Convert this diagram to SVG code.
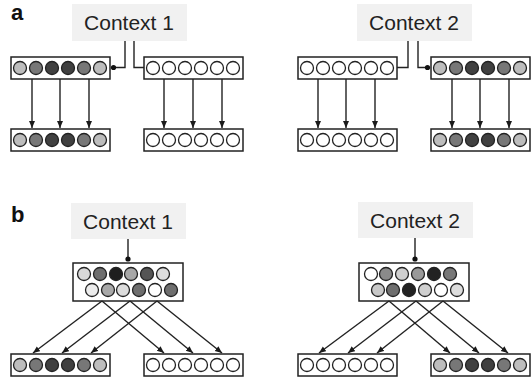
<svg xmlns="http://www.w3.org/2000/svg" width="532" height="381" viewBox="0 0 532 381">
  <defs>
    <marker id="arrow" markerUnits="userSpaceOnUse" markerWidth="8" markerHeight="8" refX="7" refY="3" orient="auto">
      <path d="M0,0 L7,3 L0,6 z" fill="#1a1a1a"/>
    </marker>
  </defs>
  <style>
    .panel { font-family: "Liberation Sans", Arial, sans-serif; font-weight: bold; font-size: 22px; fill: #111; }
    .ctx rect { fill: #f1f1f1; stroke: none; }
    .ctx text { font-family: "Liberation Sans", Arial, sans-serif; font-size: 21px; fill: #222; text-anchor: middle; }
    .layer rect { fill: #fff; stroke: #222; stroke-width: 1.5; }
    .layer circle { stroke: #222; stroke-width: 1.3; }
    .conn path, .conn line { fill: none; stroke: #222; stroke-width: 1.4; }
    .conn circle { fill: #111; }
    .arr { marker-end: url(#arrow); }
    .w { fill: #fff; }
    .l { fill: #bdbdbd; }
    .m { fill: #777; }
    .d { fill: #404040; }
  </style>

  <!-- panel letters -->
  <text class="panel" x="11" y="20">a</text>
  <text class="panel" x="11" y="222">b</text>

  <!-- ===== panel a ===== -->
  <g id="a-context1" class="ctx">
    <rect x="72" y="4" width="115" height="37"/>
    <text x="129" y="30">Context 1</text>
  </g>
  <g id="a-context2" class="ctx">
    <rect x="357" y="4" width="115" height="37"/>
    <text x="414" y="30">Context 2</text>
  </g>

  <g id="a-in1" class="layer">
    <rect x="11" y="57" width="99" height="22"/>
    <circle class="l" cx="20" cy="68" r="6.5"/><circle class="m" cx="36" cy="68" r="6.5"/><circle class="d" cx="52" cy="68" r="6.5"/>
    <circle class="d" cx="68" cy="68" r="6.5"/><circle class="m" cx="84" cy="68" r="6.5"/><circle class="l" cx="100" cy="68" r="6.5"/>
  </g>
  <g id="a-in2" class="layer">
    <rect x="144" y="57" width="99" height="22"/>
    <circle class="w" cx="153" cy="68" r="6.5"/><circle class="w" cx="169" cy="68" r="6.5"/><circle class="w" cx="185" cy="68" r="6.5"/>
    <circle class="w" cx="201" cy="68" r="6.5"/><circle class="w" cx="217" cy="68" r="6.5"/><circle class="w" cx="233" cy="68" r="6.5"/>
  </g>
  <g id="a-out1" class="layer">
    <rect x="11" y="129" width="99" height="22"/>
    <circle class="l" cx="20" cy="140" r="6.5"/><circle class="m" cx="36" cy="140" r="6.5"/><circle class="d" cx="52" cy="140" r="6.5"/>
    <circle class="d" cx="68" cy="140" r="6.5"/><circle class="m" cx="84" cy="140" r="6.5"/><circle class="l" cx="100" cy="140" r="6.5"/>
  </g>
  <g id="a-out2" class="layer">
    <rect x="144" y="129" width="99" height="22"/>
    <circle class="w" cx="153" cy="140" r="6.5"/><circle class="w" cx="169" cy="140" r="6.5"/><circle class="w" cx="185" cy="140" r="6.5"/>
    <circle class="w" cx="201" cy="140" r="6.5"/><circle class="w" cx="217" cy="140" r="6.5"/><circle class="w" cx="233" cy="140" r="6.5"/>
  </g>

  <g id="a-in3" class="layer">
    <rect x="298" y="57" width="99" height="22"/>
    <circle class="w" cx="307" cy="68" r="6.5"/><circle class="w" cx="323" cy="68" r="6.5"/><circle class="w" cx="339" cy="68" r="6.5"/>
    <circle class="w" cx="355" cy="68" r="6.5"/><circle class="w" cx="371" cy="68" r="6.5"/><circle class="w" cx="387" cy="68" r="6.5"/>
  </g>
  <g id="a-in4" class="layer">
    <rect x="431" y="57" width="99" height="22"/>
    <circle class="l" cx="440" cy="68" r="6.5"/><circle class="m" cx="456" cy="68" r="6.5"/><circle class="d" cx="472" cy="68" r="6.5"/>
    <circle class="d" cx="488" cy="68" r="6.5"/><circle class="m" cx="504" cy="68" r="6.5"/><circle class="l" cx="520" cy="68" r="6.5"/>
  </g>
  <g id="a-out3" class="layer">
    <rect x="298" y="129" width="99" height="22"/>
    <circle class="w" cx="307" cy="140" r="6.5"/><circle class="w" cx="323" cy="140" r="6.5"/><circle class="w" cx="339" cy="140" r="6.5"/>
    <circle class="w" cx="355" cy="140" r="6.5"/><circle class="w" cx="371" cy="140" r="6.5"/><circle class="w" cx="387" cy="140" r="6.5"/>
  </g>
  <g id="a-out4" class="layer">
    <rect x="431" y="129" width="99" height="22"/>
    <circle class="l" cx="440" cy="140" r="6.5"/><circle class="m" cx="456" cy="140" r="6.5"/><circle class="d" cx="472" cy="140" r="6.5"/>
    <circle class="d" cx="488" cy="140" r="6.5"/><circle class="m" cx="504" cy="140" r="6.5"/><circle class="l" cx="520" cy="140" r="6.5"/>
  </g>

  <!-- ===== panel b ===== -->
  <g id="b-context1" class="ctx">
    <rect x="71" y="203" width="115" height="36"/>
    <text x="128" y="229">Context 1</text>
  </g>
  <g id="b-context2" class="ctx">
    <rect x="358" y="202" width="115" height="36"/>
    <text x="415" y="228">Context 2</text>
  </g>

  <g id="b-hidden1" class="layer">
    <rect x="73" y="263" width="110" height="38"/>
    <circle cx="84" cy="274" r="6.5" fill="#d9d9d9"/><circle cx="100" cy="274" r="6.5" fill="#6e6e6e"/><circle cx="116" cy="274" r="6.5" fill="#1e1e1e"/>
    <circle cx="131" cy="274" r="6.5" fill="#a8a8a8"/><circle cx="147" cy="274" r="6.5" fill="#555"/><circle cx="163" cy="274" r="6.5" fill="#dcdcdc"/>
    <circle cx="92" cy="290" r="6.5" fill="#ececec"/><circle cx="108" cy="290" r="6.5" fill="#a8a8a8"/><circle cx="123" cy="290" r="6.5" fill="#dcdcdc"/>
    <circle cx="139" cy="290" r="6.5" fill="#6e6e6e"/><circle cx="155" cy="290" r="6.5" fill="#fff"/><circle cx="171" cy="290" r="6.5" fill="#6e6e6e"/>
  </g>
  <g id="b-hidden2" class="layer">
    <rect x="359" y="263" width="110" height="38"/>
    <circle cx="371" cy="274" r="6.5" fill="#fff"/><circle cx="386" cy="274" r="6.5" fill="#8a8a8a"/><circle cx="402" cy="274" r="6.5" fill="#cfcfcf"/>
    <circle cx="418" cy="274" r="6.5" fill="#999"/><circle cx="434" cy="274" r="6.5" fill="#222"/><circle cx="450" cy="274" r="6.5" fill="#777"/>
    <circle cx="378" cy="290" r="6.5" fill="#c8c8c8"/><circle cx="393" cy="290" r="6.5" fill="#6e6e6e"/><circle cx="409" cy="290" r="6.5" fill="#222"/>
    <circle cx="425" cy="290" r="6.5" fill="#cfcfcf"/><circle cx="441" cy="290" r="6.5" fill="#fff"/><circle cx="457" cy="290" r="6.5" fill="#dcdcdc"/>
  </g>

  <g id="b-out1" class="layer">
    <rect x="11" y="354" width="99" height="22"/>
    <circle class="l" cx="20" cy="365" r="6.5"/><circle class="m" cx="36" cy="365" r="6.5"/><circle class="d" cx="52" cy="365" r="6.5"/>
    <circle class="d" cx="68" cy="365" r="6.5"/><circle class="m" cx="84" cy="365" r="6.5"/><circle class="l" cx="100" cy="365" r="6.5"/>
  </g>
  <g id="b-out2" class="layer">
    <rect x="144" y="354" width="99" height="22"/>
    <circle class="w" cx="153" cy="365" r="6.5"/><circle class="w" cx="169" cy="365" r="6.5"/><circle class="w" cx="185" cy="365" r="6.5"/>
    <circle class="w" cx="201" cy="365" r="6.5"/><circle class="w" cx="217" cy="365" r="6.5"/><circle class="w" cx="233" cy="365" r="6.5"/>
  </g>
  <g id="b-out3" class="layer">
    <rect x="298" y="354" width="99" height="22"/>
    <circle class="w" cx="307" cy="365" r="6.5"/><circle class="w" cx="323" cy="365" r="6.5"/><circle class="w" cx="339" cy="365" r="6.5"/>
    <circle class="w" cx="355" cy="365" r="6.5"/><circle class="w" cx="371" cy="365" r="6.5"/><circle class="w" cx="387" cy="365" r="6.5"/>
  </g>
  <g id="b-out4" class="layer">
    <rect x="431" y="354" width="99" height="22"/>
    <circle class="l" cx="440" cy="365" r="6.5"/><circle class="m" cx="456" cy="365" r="6.5"/><circle class="d" cx="472" cy="365" r="6.5"/>
    <circle class="d" cx="488" cy="365" r="6.5"/><circle class="m" cx="504" cy="365" r="6.5"/><circle class="l" cx="520" cy="365" r="6.5"/>
  </g>

  <!-- connectors -->
  <g id="connectors" class="conn">
    <!-- panel a: context gating lines -->
    <path d="M125,41 V67.5 H114"/>
    <circle cx="113.5" cy="67.5" r="2.6"/>
    <path d="M134,41 V67.5 H144"/>
    <path d="M408,41 V67.5 H397"/>
    <path d="M418,41 V67.5 H428"/>
    <circle cx="427.5" cy="67.5" r="2.6"/>

    <!-- panel a: feed-forward arrows -->
    <line class="arr" x1="32" y1="79" x2="32" y2="128"/>
    <line class="arr" x1="60" y1="79" x2="60" y2="128"/>
    <line class="arr" x1="89" y1="79" x2="89" y2="128"/>
    <line class="arr" x1="164" y1="79" x2="164" y2="128"/>
    <line class="arr" x1="193" y1="79" x2="193" y2="128"/>
    <line class="arr" x1="222" y1="79" x2="222" y2="128"/>
    <line class="arr" x1="318" y1="79" x2="318" y2="128"/>
    <line class="arr" x1="346" y1="79" x2="346" y2="128"/>
    <line class="arr" x1="375" y1="79" x2="375" y2="128"/>
    <line class="arr" x1="452" y1="79" x2="452" y2="128"/>
    <line class="arr" x1="480" y1="79" x2="480" y2="128"/>
    <line class="arr" x1="509" y1="79" x2="509" y2="128"/>

    <!-- panel b: context inputs -->
    <line x1="128" y1="239" x2="128" y2="259"/>
    <circle cx="128" cy="259" r="2.6"/>
    <line x1="415" y1="238" x2="415" y2="259"/>
    <circle cx="415" cy="259" r="2.6"/>

    <!-- panel b: fan-out arrows -->
    <line class="arr" x1="102" y1="301" x2="33" y2="353"/>
    <line class="arr" x1="130" y1="301" x2="62" y2="353"/>
    <line class="arr" x1="157" y1="301" x2="91" y2="353"/>
    <line class="arr" x1="102" y1="301" x2="164" y2="353"/>
    <line class="arr" x1="130" y1="301" x2="193" y2="353"/>
    <line class="arr" x1="157" y1="301" x2="222" y2="353"/>
    <line class="arr" x1="389" y1="301" x2="319" y2="353"/>
    <line class="arr" x1="416" y1="301" x2="348" y2="353"/>
    <line class="arr" x1="443" y1="301" x2="377" y2="353"/>
    <line class="arr" x1="389" y1="301" x2="450" y2="353"/>
    <line class="arr" x1="416" y1="301" x2="479" y2="353"/>
    <line class="arr" x1="443" y1="301" x2="508" y2="353"/>
  </g>
</svg>
